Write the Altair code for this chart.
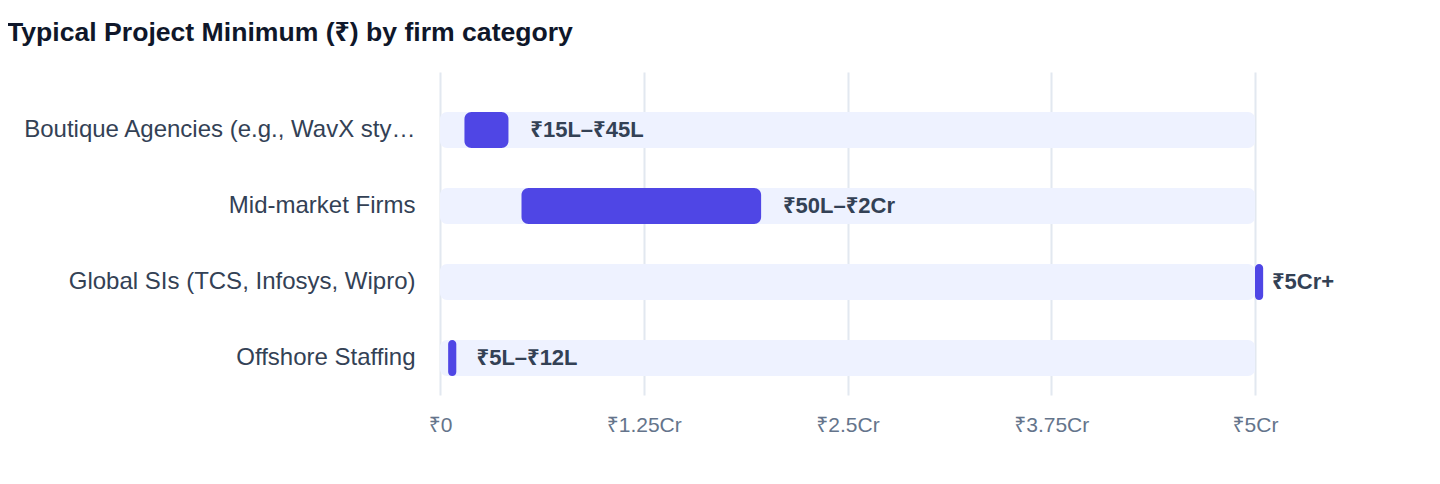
import altair as alt
import pandas as pd

# ---- data (values in lakh ₹) ----
categories = [
    "Boutique Agencies (e.g., WavX sty…",
    "Mid-market Firms",
    "Global SIs (TCS, Infosys, Wipro)",
    "Offshore Staffing",
]
bar_start = [15, 50, 500, 5]
bar_end = [42, 197, 505, 10]
label_pos = [45, 200, 500, 12]
range_labels = ["₹15L–₹45L", "₹50L–₹2Cr", "₹5Cr+", "₹5L–₹12L"]
track_min = [0, 0, 0, 0]
track_max = [500, 500, 500, 500]

tick_values = [0, 125, 250, 375, 500]
tick_labels = ["₹0", "₹1.25Cr", "₹2.5Cr", "₹3.75Cr", "₹5Cr"]

df = pd.DataFrame({
    "cat": categories,
    "start": bar_start,
    "end": bar_end,
    "lpos": label_pos,
    "label": range_labels,
    "tmin": track_min,
    "tmax": track_max,
})

FONT = "Liberation Sans, Noto Sans, DejaVu Sans, sans-serif"

label_map = "{" + ",".join(f"'{v}':'{t}'" for v, t in zip(tick_values, tick_labels)) + "}"

x_scale = alt.Scale(domain=[0, 500], nice=False, zero=True)
y_enc = alt.Y(
    "cat:N",
    sort=categories,
    scale=alt.Scale(paddingInner=0.526, paddingOuter=0.388, align=0.678),
    axis=alt.Axis(
        title=None, ticks=False, tickSize=0, domain=False, grid=False,
        labelPadding=25, labelFontSize=24, labelColor="#334155",
        labelLimit=600, labelFont=FONT,
    ),
)
x_axis = alt.Axis(
    title=None, values=tick_values, labelExpr=f"{label_map}[datum.value]",
    ticks=False, tickSize=0, domain=False, grid=True, gridColor="#E2E8F0",
    gridWidth=2, labelPadding=19, labelFontSize=21, labelColor="#64748B",
    labelFont=FONT, labelFlush=False,
)

base = alt.Chart(df)

track = base.mark_bar(color="#EEF2FF", cornerRadius=7, height=36).encode(
    x=alt.X("tmin:Q", scale=x_scale, axis=x_axis),
    x2="tmax:Q",
    y=y_enc,
)
bars = base.mark_bar(color="#4F46E5", cornerRadius=7, height=36).encode(
    x=alt.X("start:Q", scale=x_scale),
    x2="end:Q",
    y=y_enc,
)
texts = base.mark_text(
    align="left", baseline="middle", dx=17, fontSize=22, fontWeight="bold",
    color="#334155", font=FONT,
).encode(
    x=alt.X("lpos:Q", scale=x_scale),
    y=y_enc,
    text="label:N",
)

chart = alt.layer(track, bars, texts).properties(
    width=815,
    height=323,
    autosize="none",
    padding={"left": 432, "top": 64, "right": 177, "bottom": 81},
    title=alt.TitleParams(
        "Typical Project Minimum (₹) by firm category",
        anchor="start", frame="group", dx=-433, dy=-21,
        fontSize=26.6, fontWeight="bold", color="#0F172A", font=FONT,
    ),
).configure(font=FONT).configure_view(strokeWidth=0, stroke="transparent")

chart.save("out.html", embed_options={"renderer": "svg", "actions": False})
